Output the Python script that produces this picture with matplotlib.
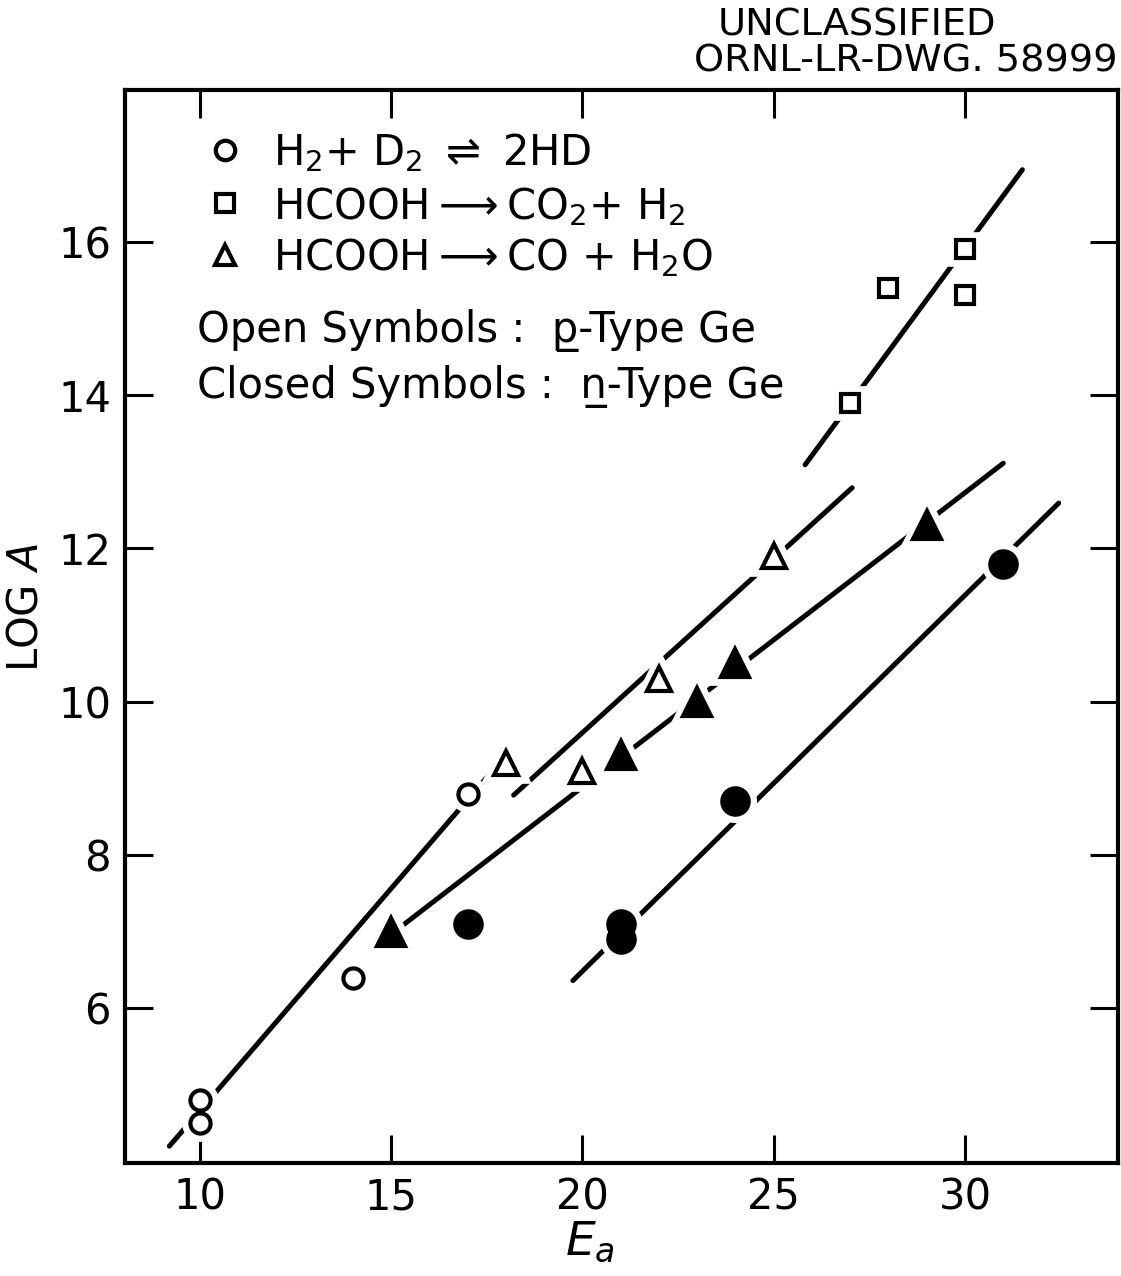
import matplotlib
matplotlib.use("Agg")
import matplotlib.pyplot as plt

plt.rcParams['font.family'] = ['DejaVu Sans']
plt.rcParams['mathtext.fontset'] = 'dejavusans'

# Data (Ea, log A)
open_circle_x = [10, 10, 14, 17]
open_circle_y = [4.8, 4.5, 6.4, 8.8]
open_square_x = [27, 28, 30, 30]
open_square_y = [13.9, 15.4, 15.9, 15.3]
open_tri_x = [18, 20, 22, 25]
open_tri_y = [9.2, 9.1, 10.3, 11.9]
closed_tri_x = [15, 21, 23, 24, 29]
closed_tri_y = [7.0, 9.3, 10.0, 10.5, 12.3]
closed_circle_x = [17, 21, 21, 24, 31]
closed_circle_y = [7.1, 7.1, 6.9, 8.7, 11.8]

# Fitted lines (endpoints)
line_circle_x = [9.2, 17.6]
line_circle_y = [4.2, 9.07]
line_opentri_x = [18.2, 27.05]
line_opentri_y = [8.78, 12.79]
line_closedtri_x = [14.7, 31.0]
line_closedtri_y = [6.85, 13.11]
line_closedcirc_x = [19.75, 32.45]
line_closedcirc_y = [6.36, 12.59]
line_square_x = [25.82, 31.5]
line_square_y = [13.09, 16.94]

xticks = [10, 15, 20, 25, 30]
yticks = [6, 8, 10, 12, 14, 16]

fig = plt.figure(figsize=(11.21, 12.76), dpi=100)
ax = fig.add_axes([125/1121, 1 - 1163/1276, (1118-125)/1121, (1163-90)/1276])
ax.set_xlim(8.04, 34.0)
ax.set_ylim(3.98, 17.98)

lw = 3.6
for lx, ly in [(line_circle_x, line_circle_y), (line_opentri_x, line_opentri_y),
               (line_closedtri_x, line_closedtri_y), (line_closedcirc_x, line_closedcirc_y),
               (line_square_x, line_square_y)]:
    ax.plot(lx, ly, color='black', lw=lw, solid_capstyle='round', zorder=2)

series = [
    (open_circle_x, open_circle_y, 'o', 14.5, 'white'),
    (open_square_x, open_square_y, 's', 13, 'white'),
    (open_tri_x, open_tri_y, '^', 17, 'white'),
    (closed_tri_x, closed_tri_y, '^', 20, 'black'),
    (closed_circle_x, closed_circle_y, 'o', 19, 'black'),
]
# white halos to break lines near markers
for x, y, m, s, fc in series:
    ax.plot(x, y, linestyle='none', marker=m, markersize=s, markerfacecolor='white',
            markeredgecolor='white', markeredgewidth=12, zorder=3)
for x, y, m, s, fc in series:
    ax.plot(x, y, linestyle='none', marker=m, markersize=s, markerfacecolor=fc,
            markeredgecolor='black', markeredgewidth=3, zorder=4)

ax.set_xticks(xticks)
ax.set_yticks(yticks)
ax.tick_params(direction='in', length=20, width=2.2, top=True, right=True,
               labelsize=30, pad=10)
for sp in ax.spines.values():
    sp.set_linewidth(3)

ax.set_xlabel(r'$E_a$', fontsize=34)
ax.xaxis.set_label_coords(0.468, -0.053)
ax.set_ylabel('LOG $\\mathit{A}$', fontsize=30)
ax.yaxis.set_label_coords(-0.079, 0.518)

# legend-like annotations
leg_fs = 30
mk_x = 10.65
ax.plot([mk_x], [17.20], 'o', ms=14, mfc='white', mec='black', mew=3, clip_on=False)
ax.plot([mk_x], [16.51], 's', ms=13, mfc='white', mec='black', mew=3, clip_on=False)
ax.plot([mk_x], [15.83], '^', ms=15, mfc='white', mec='black', mew=3, clip_on=False)
tx = 11.91
ax.text(tx, 17.00, r'H$_2$+ D$_2$ $\rightleftharpoons$ 2HD', fontsize=leg_fs, va='baseline', ha='left')
ax.text(tx, 16.30, r'HCOOH$\longrightarrow$CO$_2$+ H$_2$', fontsize=leg_fs, va='baseline', ha='left')
ax.text(tx, 15.63, r'HCOOH$\longrightarrow$CO + H$_2$O', fontsize=leg_fs, va='baseline', ha='left')
ax.text(9.92, 14.69, 'Open Symbols :  p\u0332-Type Ge', fontsize=leg_fs, va='baseline', ha='left')
ax.text(9.92, 13.96, 'Closed Symbols :  n\u0332-Type Ge', fontsize=leg_fs, va='baseline', ha='left')

fig.text(718/1121, 1 - 26/1276, 'UNCLASSIFIED', fontsize=27.5, ha='left', va='center')
fig.text(1118/1121, 1 - 62/1276, 'ORNL-LR-DWG. 58999', fontsize=27.5, ha='right', va='center')

fig.savefig('out.png', dpi=100)
